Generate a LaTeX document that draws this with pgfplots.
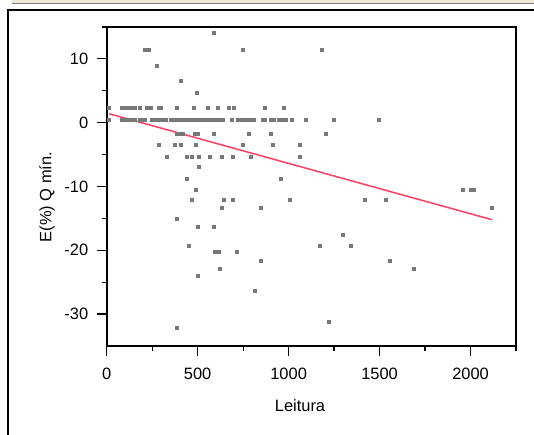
\documentclass[border=0pt]{standalone}
\usepackage{pgfplots}
\pgfplotsset{compat=1.18}
\usepackage{fontspec}
\setmainfont{Liberation Sans}
\definecolor{fitred}{RGB}{255,64,96}
\definecolor{ptgray}{RGB}{120,120,120}
\begin{document}
\begin{tikzpicture}[x=1bp,y=1bp]
\useasboundingbox (0,0) rectangle (534,435);
% window decoration
\fill[fill={rgb,255:red,236;green,233;blue,216}] (12,431) rectangle (534,435);
\draw[gray,line width=0.8bp] (12,431.5) -- (534,431.5);
\draw[black,line width=2bp] (8,0) -- (8,425) -- (534,425);
\begin{axis}[
  at={(106.7bp,89bp)}, anchor=south west,
  width=409.3bp, height=319bp, scale only axis,
  xmin=0, xmax=2250, ymin=-35, ymax=15,
  xtick={0,500,1000,1500,2000},
  minor xtick={250,750,1250,1750,2250},
  ytick={-30,-20,-10,0,10},
  minor ytick={-25,-15,-5,5,15},
  tick align=outside, xtick pos=left, ytick pos=left,
  major tick length=10bp, minor tick length=5bp,
  tick style={black, line width=1.2bp},
  axis line style={line width=1.6bp},
  /pgf/number format/assume math mode=true,
  /pgf/number format/1000 sep={},
  tick label style={font=\fontsize{16.5}{18}\selectfont},
  xticklabel style={yshift=-9bp},
  yticklabel style={xshift=-5bp},
  scaled ticks=false,
  clip=false,
]
\addplot[ptgray, only marks, mark=square*, mark size=1.5bp, mark options={fill=ptgray, draw=ptgray, line width=0pt}] table {
x y
590 14.0
210 11.4
235 11.4
747 11.4
1185 11.4
275 8.85
408 6.5
498 4.66
14 2.35
85 2.35
100 2.35
115 2.35
130 2.35
145 2.35
155 2.35
185 2.35
220 2.35
245 2.35
287 2.35
297 2.35
388 2.35
478 2.35
557 2.35
612 2.35
672 2.35
700 2.35
870 2.35
972 2.35
14 0.42
85 0.42
100 0.42
115 0.42
130 0.42
145 0.42
155 0.42
185 0.42
200 0.42
210 0.42
250 0.42
265 0.42
280 0.42
295 0.42
310 0.42
325 0.42
352 0.42
367 0.42
382 0.42
397 0.42
412 0.42
427 0.42
442 0.42
457 0.42
472 0.42
487 0.42
502 0.42
517 0.42
532 0.42
547 0.42
562 0.42
577 0.42
592 0.42
607 0.42
622 0.42
637 0.42
687 0.42
721 0.42
735 0.42
750 0.42
765 0.42
780 0.42
795 0.42
808 0.42
860 0.42
870 0.42
905 0.42
918 0.42
947 0.42
960 0.42
973 0.42
985 0.42
1016 0.42
1095 0.42
1251 0.42
1498 0.42
384 -1.83
400 -1.83
418 -1.83
484 -1.83
504 -1.83
590 -1.83
782 -1.83
903 -1.83
1207 -1.83
287 -3.45
375 -3.45
408 -3.45
489 -3.45
747 -3.45
914 -3.45
1062 -3.45
331 -5.4
440 -5.4
470 -5.4
509 -5.4
568 -5.4
635 -5.4
692 -5.4
791 -5.4
1062 -5.4
509 -7.0
443 -8.9
960 -8.9
489 -10.6
1960 -10.6
2000 -10.6
2020 -10.6
467 -12.1
646 -12.1
692 -12.1
1005 -12.1
1421 -12.1
1535 -12.1
635 -13.4
849 -13.4
2117 -13.4
388 -15.1
500 -16.3
590 -16.3
1297 -17.6
454 -19.3
1174 -19.3
1342 -19.3
595 -20.3
615 -20.3
714 -20.3
850 -21.6
1557 -21.6
624 -22.9
1690 -22.9
500 -24.1
815 -26.4
1220 -31.2
388 -32.2
};
\addplot[fitred, line width=1.5bp] coordinates {(14,1.4) (2117,-15.2)};
\end{axis}
\node[font=\fontsize{16.5}{18}\selectfont, anchor=base] at (300,23) {Leitura};
\node[font=\fontsize{16.5}{18}\selectfont, rotate=90] at (47,238) {E(\%) Q mín.};
\end{tikzpicture}
\end{document}
